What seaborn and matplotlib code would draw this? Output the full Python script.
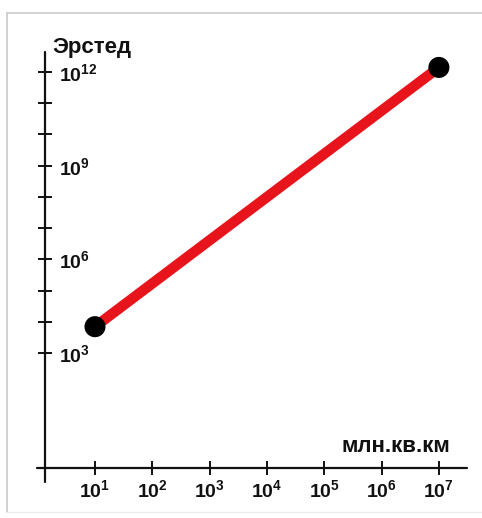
import numpy as np
import matplotlib
matplotlib.use("Agg")
import matplotlib.pyplot as plt
import matplotlib.ticker as mticker
from matplotlib.lines import Line2D
import seaborn as sns

# data
area = [1e1, 1e7]            # млн.кв.км
field = [7e3, 1.4e12]        # Эрстед
x_ticks = [1e1, 1e2, 1e3, 1e4, 1e5, 1e6, 1e7]
y_major = [1e3, 1e6, 1e9, 1e12]
y_minor = [1e4, 1e5, 1e7, 1e8, 1e10, 1e11]

sns.set_theme(style="white")
plt.rcParams["font.family"] = ["Liberation Sans", "DejaVu Sans"]
plt.rcParams["font.weight"] = "bold"
plt.rcParams["mathtext.fontset"] = "custom"
plt.rcParams["mathtext.rm"] = "Liberation Sans:bold"
plt.rcParams["mathtext.bf"] = "Liberation Sans:bold"
plt.rcParams["mathtext.it"] = "Liberation Sans:bold"

fig = plt.figure(figsize=(4.82, 5.18), dpi=100)
ax = fig.add_axes([45 / 482, 1 - 468 / 518, 422 / 482, 416 / 518])

# light frame around the picture
frame = "#c9c9c9"
fig.add_artist(Line2D([7 / 482, 1.0], [1 - 12.5 / 518] * 2, color=frame, lw=1.2))
fig.add_artist(Line2D([7 / 482] * 2, [1 - 12.5 / 518, 1 - 512 / 518], color=frame, lw=1.2))
fig.add_artist(Line2D([7 / 482, 1.0], [1 - 512 / 518] * 2, color="#ececec", lw=1.0))

df = {"x": area, "y": field}
sns.lineplot(x="x", y="y", data=df, ax=ax, color="#e8141c", lw=7.5,
             solid_capstyle="butt", zorder=2)
sns.scatterplot(x="x", y="y", data=df, ax=ax, color="black", s=230,
                edgecolor="none", zorder=3)

ax.set_xscale("log")
ax.set_yscale("log")
ax.set_xlim(10 ** 0.128, 10 ** 7.49)
ax.set_ylim(10 ** -0.68, 10 ** 12.64)

for s in ["top", "right", "left", "bottom"]:
    ax.spines[s].set_visible(False)
# axis lines that run a little past the origin
ax.plot([0, 0], [-0.034, 1], transform=ax.transAxes, color="#111111",
        lw=1.6, clip_on=False)
ax.plot([-0.02, 1], [0, 0], transform=ax.transAxes, color="#111111",
        lw=1.6, clip_on=False)

ax.xaxis.set_major_locator(mticker.FixedLocator(x_ticks))
ax.xaxis.set_minor_locator(mticker.NullLocator())
ax.set_xticklabels([f"$10^{{{int(np.log10(v))}}}$" for v in x_ticks])
ax.yaxis.set_major_locator(mticker.FixedLocator(y_major))
ax.yaxis.set_minor_locator(mticker.FixedLocator(y_minor))
ax.set_yticklabels([f"$10^{{{int(np.log10(v))}}}$" for v in y_major])
ax.yaxis.set_minor_formatter(mticker.NullFormatter())

ax.tick_params(axis="both", which="both", direction="inout", length=10,
               width=1.4, color="#111111", labelsize=14, labelcolor="#111111",
               bottom=True, left=True, top=False, right=False)
ax.tick_params(axis="x", pad=3)
ax.tick_params(axis="y", pad=-15)
for lab in ax.get_yticklabels():
    lab.set_horizontalalignment("left")
    lab.set_verticalalignment("center_baseline")

ax.set_xlabel("")
ax.set_ylabel("")
ax.grid(False)

fig.text(52 / 482, 1 - 53 / 518, "Эрстед", fontsize=16, fontweight="bold",
         color="#111111", ha="left", va="baseline")
fig.text(450 / 482, 1 - 452 / 518, "млн.кв.км", fontsize=16, fontweight="bold",
         color="#111111", ha="right", va="baseline")

fig.savefig("out.png", dpi=100, facecolor="white")
